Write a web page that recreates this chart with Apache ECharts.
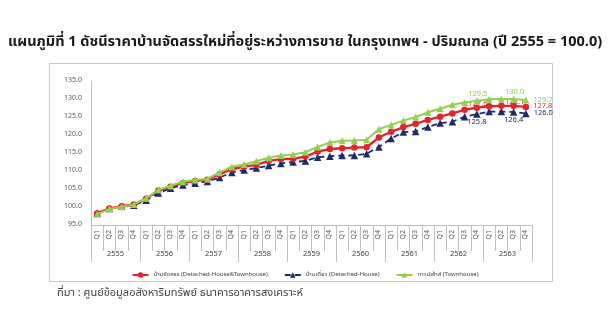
<!DOCTYPE html>
<html>
<head>
<meta charset="utf-8">
<script src="https://cdn.jsdelivr.net/npm/echarts@6/dist/echarts.min.js"></script>
<style>
  html, body { margin: 0; padding: 0; background: #ffffff; }
  #chart { width: 610px; height: 336px; }
</style>
</head>
<body>
<div id="chart"></div>
<script>
// Quarterly price index of new housing projects for sale, Bangkok & vicinity (2555 = 100.0)
const years = ['2555', '2556', '2557', '2558', '2559', '2560', '2561', '2562', '2563'];
const quarters = ['Q1', 'Q2', 'Q3', 'Q4'];
const yTicks = [95, 100, 105, 110, 115, 120, 125, 130, 135];

const seriesNames = [
  'บ้านจัดสรร (Detached-House&Townhouse)',
  'บ้านเดี่ยว (Detached-House)',
  'ทาวน์เฮ้าส์ (Townhouse)'
];

const allHousing = [
  98.2, 99.6, 100.2, 100.7,
  102.3, 104.6, 105.6, 106.7,
  107.2, 107.6, 109.1, 110.5,
  111.2, 111.7, 112.8, 113.3,
  113.4, 114.0, 115.4, 116.1,
  116.3, 116.5, 116.6, 119.3,
  120.9, 122.2, 123.1, 124.2,
  125.1, 126.0, 127.0, 127.6,
  128.0, 128.1, 128.1, 127.8
];
const detached = [
  98.3, 99.6, 100.2, 100.5,
  101.9, 103.9, 105.2, 106.1,
  106.6, 107.1, 108.2, 109.6,
  110.3, 110.8, 111.5, 112.1,
  112.5, 112.8, 113.8, 114.1,
  114.3, 114.3, 114.8, 116.7,
  119.0, 120.8, 121.0, 122.2,
  123.3, 123.7, 125.1, 125.8,
  126.5, 126.5, 126.4, 126.0
];
const townhouse = [
  98.0, 99.5, 100.1, 100.7,
  102.4, 104.8, 105.9, 107.1,
  107.5, 107.8, 109.6, 111.2,
  111.8, 112.7, 113.7, 114.3,
  114.6, 115.2, 116.7, 117.9,
  118.4, 118.5, 118.7, 121.6,
  122.8, 124.0, 125.0, 126.3,
  127.3, 128.4, 129.0, 129.5,
  129.9, 130.0, 130.0, 129.7
];

// quarters whose value is printed next to the marker
const labelledIdx = [31, 34, 35];

const categories = [];
years.forEach(() => quarters.forEach(q => categories.push(q)));

const FONT = '"Noto Sans Thai", "Noto Sans", "DejaVu Sans", sans-serif';
const colors = ['#e3242b', '#1f2a6b', '#92d050'];

function withLabels(values, color, placeFor) {
  return values.map((v, i) => {
    if (labelledIdx.indexOf(i) < 0) return v;
    return {
      value: v,
      label: Object.assign({
        show: true,
        color: color,
        fontSize: 7.5,
        fontFamily: FONT,
        formatter: p => p.value.toFixed(1)
      }, placeFor(i))
    };
  });
}

const chart = echarts.init(document.getElementById('chart'), null, { renderer: 'canvas' });

chart.setOption({
  animation: false,
  backgroundColor: '#ffffff',
  textStyle: { fontFamily: FONT },
  title: {
    text: 'แผนภูมิที่ 1 ดัชนีราคาบ้านจัดสรรใหม่ที่อยู่ระหว่างการขาย ในกรุงเทพฯ - ปริมณฑล (ปี 2555 = 100.0)',
    left: 3,
    top: 31,
    textStyle: { fontSize: 14.5, fontWeight: 'bold', color: '#1a1a1a', fontFamily: FONT }
  },
  graphic: [
    {
      type: 'rect',
      shape: { x: 49.5, y: 63.5, width: 503, height: 218 },
      style: { fill: 'none', stroke: '#c8c8c8', lineWidth: 1 },
      silent: true
    },
    {
      type: 'text',
      left: 57,
      top: 288,
      style: {
        text: 'ที่มา : ศูนย์ข้อมูลอสังหาริมทรัพย์ ธนาคารอาคารสงเคราะห์',
        fill: '#404040',
        fontSize: 11,
        fontFamily: FONT
      }
    }
  ],
  legend: {
    top: 267,
    left: 'center',
    itemWidth: 16,
    itemHeight: 7,
    itemGap: 16,
    textStyle: { fontSize: 6, color: '#404040', fontFamily: FONT },
    data: seriesNames
  },
  grid: { left: 91, right: 78, top: 81, bottom: 111, containLabel: false },
  xAxis: [
    {
      type: 'category',
      data: categories,
      boundaryGap: true,
      axisLine: { show: true, lineStyle: { color: '#bfbfbf', width: 1 } },
      axisTick: { show: true, interval: 0, length: 26, lineStyle: { color: '#bfbfbf' } },
      axisLabel: { interval: 0, rotate: 90, fontSize: 7, color: '#595959', margin: 5 }
    },
    {
      type: 'category',
      data: years,
      position: 'bottom',
      boundaryGap: true,
      axisLine: { show: false },
      axisTick: { show: true, interval: 0, length: 37, lineStyle: { color: '#bfbfbf' } },
      axisLabel: { interval: 0, fontSize: 7.5, color: '#404040', margin: 25 }
    }
  ],
  yAxis: {
    type: 'value',
    min: yTicks[0],
    max: yTicks[yTicks.length - 1],
    interval: yTicks[1] - yTicks[0],
    axisLine: { show: true, lineStyle: { color: '#bfbfbf' } },
    axisTick: { show: false },
    splitLine: { show: false },
    axisLabel: { fontSize: 7, color: '#595959', margin: 9, formatter: v => v.toFixed(1) }
  },
  series: [
    {
      name: seriesNames[0],
      type: 'line',
      xAxisIndex: 0,
      data: withLabels(allHousing, colors[0], i => i === 35
        ? { position: 'right', distance: 4 }
        : { position: 'top', distance: 0, offset: [1, 4] }),
      symbol: 'circle',
      symbolSize: 6.5,
      color: colors[0],
      lineStyle: { width: 2.4, color: colors[0] },
      itemStyle: { color: colors[0] },
      z: 3
    },
    {
      name: seriesNames[1],
      type: 'line',
      xAxisIndex: 0,
      data: withLabels(detached, colors[1], i => i === 35
        ? { position: 'right', distance: 4 }
        : { position: 'bottom', distance: 1 }),
      symbol: 'triangle',
      symbolSize: 7.5,
      color: colors[1],
      lineStyle: { width: 1.8, color: colors[1], type: [6, 4] },
      itemStyle: { color: colors[1] },
      z: 2
    },
    {
      name: seriesNames[2],
      type: 'line',
      xAxisIndex: 0,
      data: withLabels(townhouse, colors[2], i => i === 35
        ? { position: 'right', distance: 4 }
        : { position: 'top', distance: 0, offset: [1, 1] }),
      symbol: 'triangle',
      symbolSize: 7,
      color: colors[2],
      lineStyle: { width: 2, color: colors[2] },
      itemStyle: { color: colors[2] },
      z: 4
    }
  ]
});
</script>
</body>
</html>
